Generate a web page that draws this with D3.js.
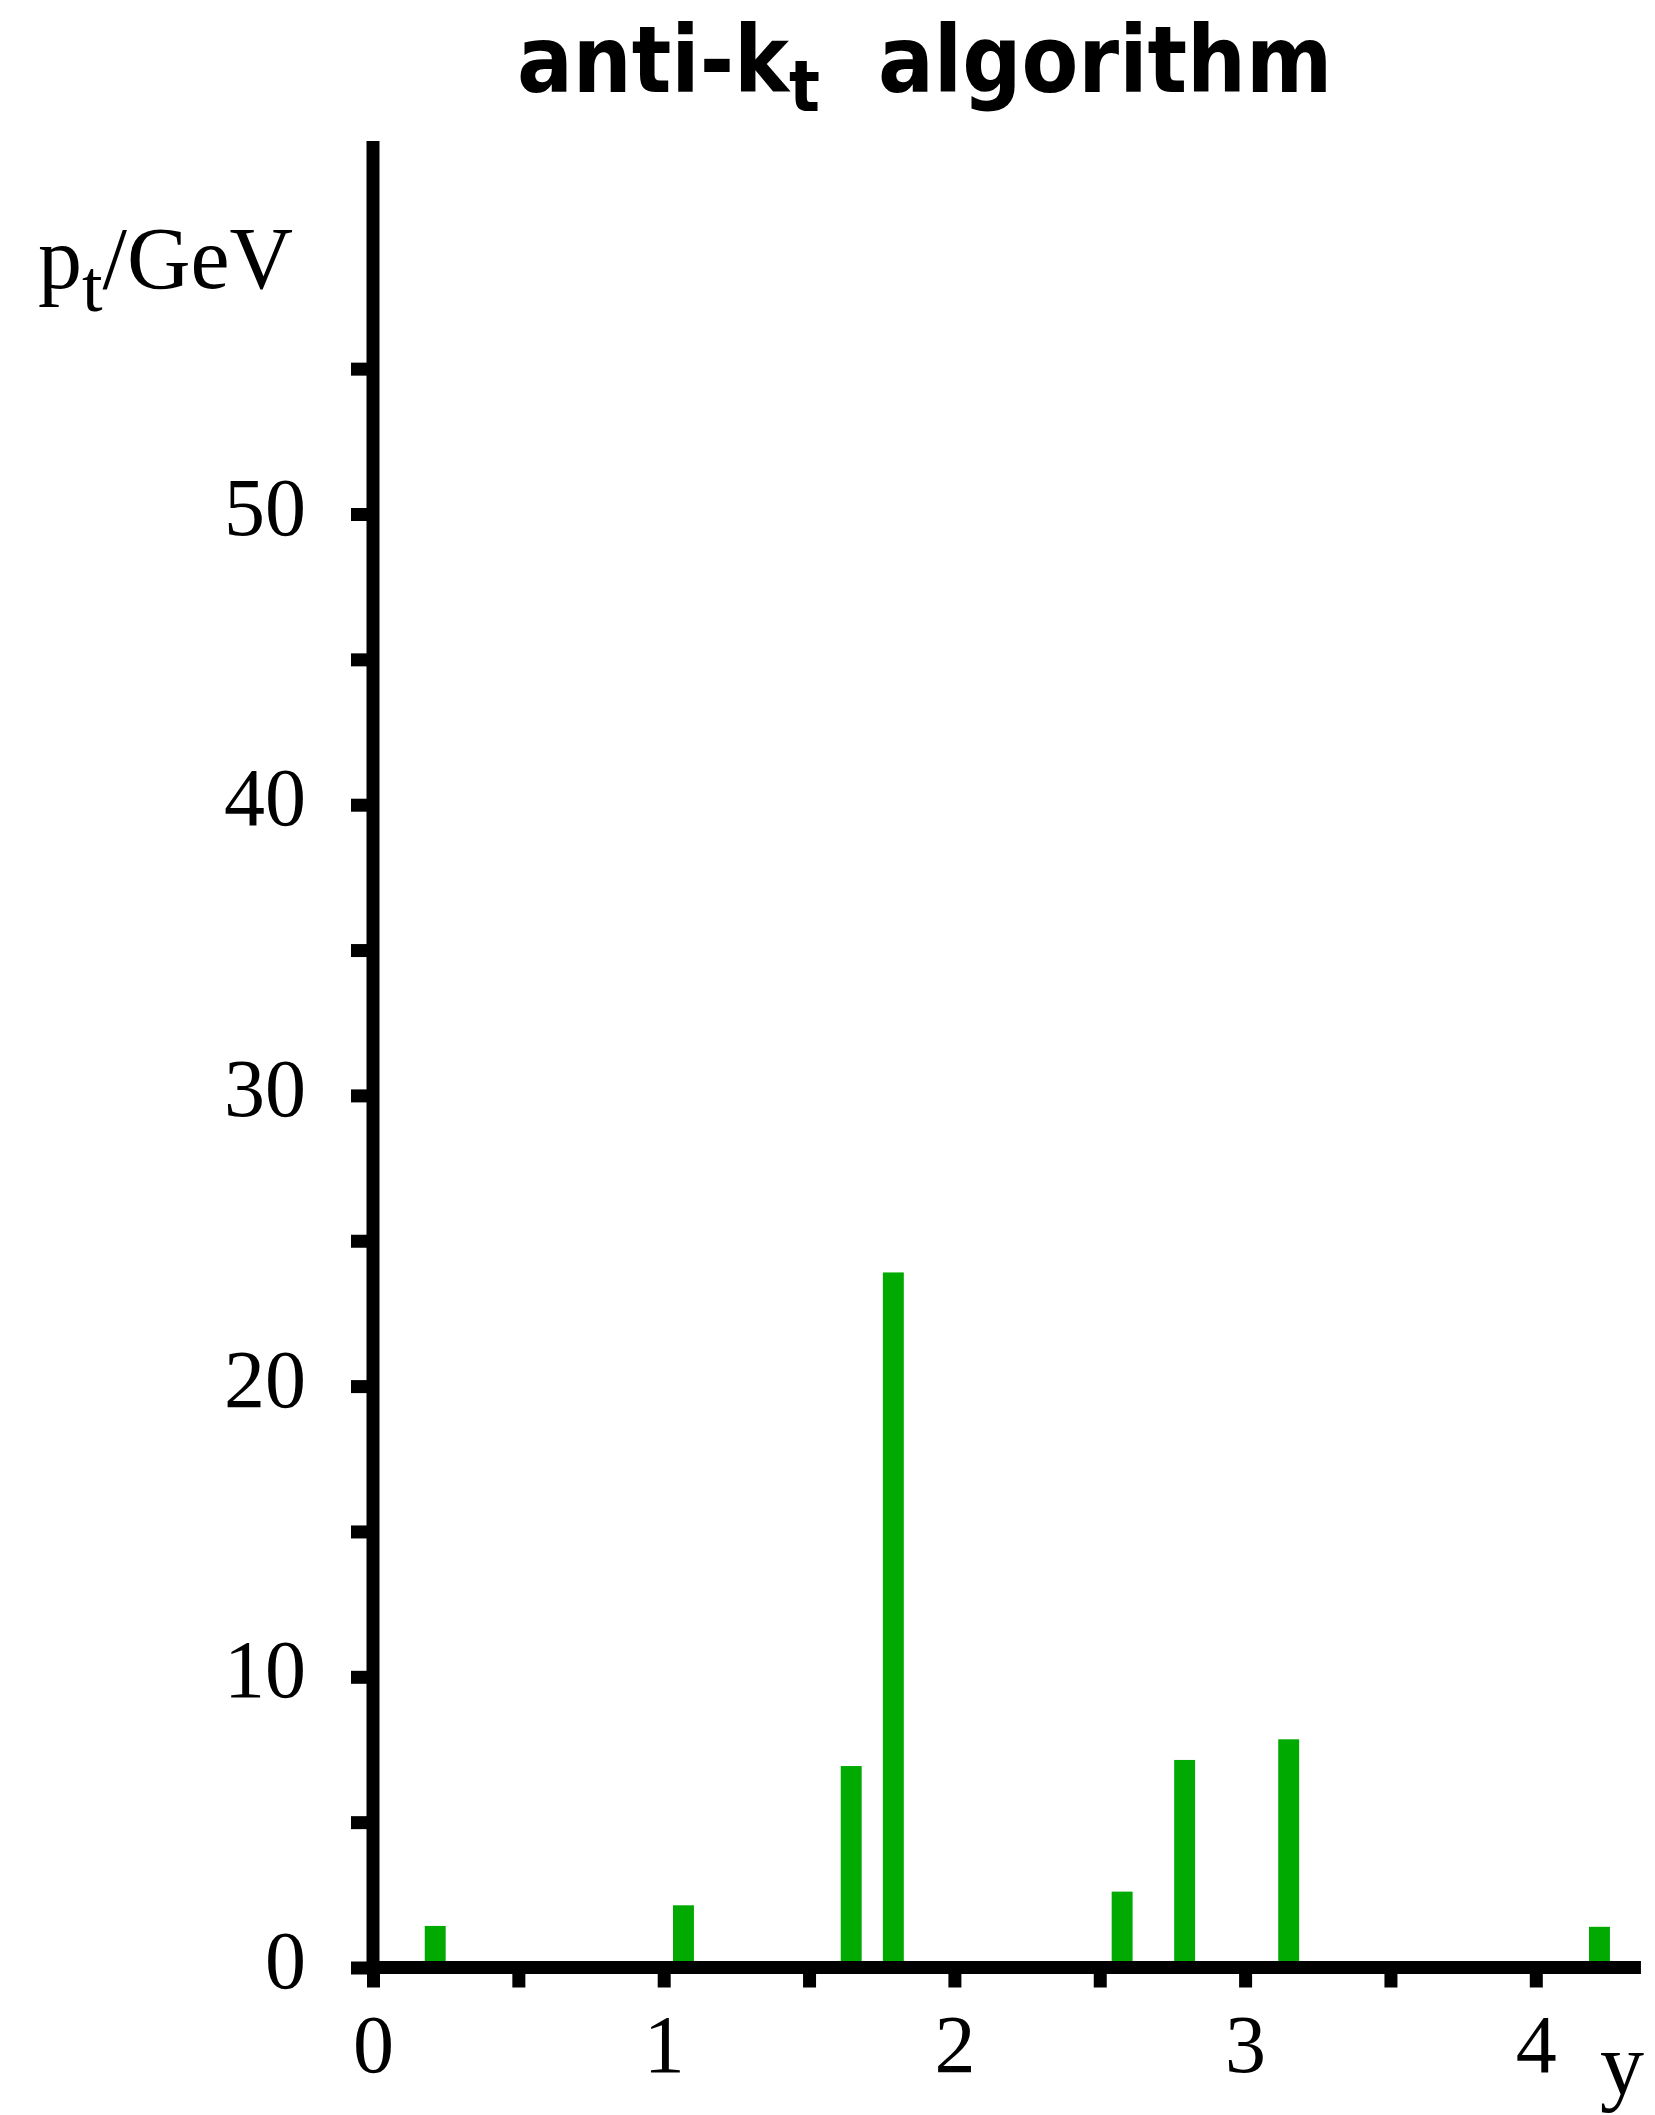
<!DOCTYPE html>
<html>
<head>
<meta charset="utf-8">
<script src="https://cdn.jsdelivr.net/npm/d3@7"></script>
<style>
  html, body { margin: 0; padding: 0; background: #fff; }
  svg { display: block; }
</style>
</head>
<body>
<script>
// Jet transverse momenta vs rapidity, anti-kt clustering
const rapidity = [0.214, 1.068, 1.645, 1.790, 2.577, 2.792, 3.150, 4.219];
const ptGeV    = [1.43, 2.14, 6.93, 23.91, 2.61, 7.14, 7.85, 1.40];
const yTicks = [0, 5, 10, 15, 20, 25, 30, 35, 40, 45, 50, 55];
const yTickLabels = ["0", "", "10", "", "20", "", "30", "", "40", "", "50", ""];
const xTicks = [0, 0.5, 1, 1.5, 2, 2.5, 3, 3.5, 4];
const xTickLabels = ["0", "", "1", "", "2", "", "3", "", "4"];

const W = 1655, H = 2115;
const x0 = 373, y0 = 1967.5;
const pxPerY = 290.7;      // pixels per unit of rapidity
const pxPerPt = 29.07;     // pixels per GeV
const xMax = 4.36, yMax = 62.85;
const barWidth = 0.072;    // in rapidity units
const axisStroke = 13;
const tickFont = 82;
const serif = "'Liberation Serif', 'Times New Roman', serif";

const svg = d3.select("body").append("svg")
  .attr("width", W).attr("height", H)
  .attr("viewBox", `0 0 ${W} ${H}`);

svg.append("rect").attr("width", W).attr("height", H).attr("fill", "#fff");

const x = d3.scaleLinear().domain([0, xMax]).range([x0, x0 + xMax * pxPerY]);
const y = d3.scaleLinear().domain([0, yMax]).range([y0, y0 - yMax * pxPerPt]);

// bars
const data = rapidity.map((r, i) => ({ r, pt: ptGeV[i] }));
svg.append("g").selectAll("rect").data(data).join("rect")
  .attr("x", d => x(d.r - barWidth / 2))
  .attr("width", d => x(d.r + barWidth / 2) - x(d.r - barWidth / 2))
  .attr("y", d => y(d.pt))
  .attr("height", d => y(0) - y(d.pt))
  .attr("fill", "#00aa00");

// y axis
const yAxis = d3.axisLeft(y)
  .tickValues(yTicks)
  .tickSize(21.5)
  .tickSizeOuter(0)
  .tickPadding(45)
  .tickFormat((d, i) => yTickLabels[i]);
const gy = svg.append("g").attr("transform", `translate(${x0 - 0.5},0)`).call(yAxis);
gy.select(".domain").attr("stroke-width", axisStroke);
gy.selectAll(".tick line").attr("stroke-width", axisStroke);
gy.selectAll(".tick text")
  .attr("font-family", serif).attr("font-size", tickFont)
  .attr("fill", "#000").attr("dy", "0.244em");

// x axis
const xAxis = d3.axisBottom(x)
  .tickValues(xTicks)
  .tickSize(20.5)
  .tickSizeOuter(0)
  .tickPadding(26)
  .tickFormat((d, i) => xTickLabels[i]);
const gx = svg.append("g").attr("transform", `translate(0,${y0 - 0.5})`).call(xAxis);
gx.select(".domain").attr("stroke-width", axisStroke);
gx.selectAll(".tick line").attr("stroke-width", axisStroke);
gx.selectAll(".tick text")
  .attr("font-family", serif).attr("font-size", tickFont)
  .attr("fill", "#000");
gy.attr("font-family", null); gx.attr("font-family", null);

// y axis title: p_t/GeV
const yl = svg.append("text")
  .attr("x", 38).attr("y", 288)
  .attr("font-family", serif).attr("font-size", 88).attr("fill", "#000");
yl.append("tspan").text("p");
yl.append("tspan").attr("font-size", 74).attr("dy", 23).text("t");
yl.append("tspan").attr("dy", -23).text("/GeV");

// x axis title
svg.append("text")
  .attr("x", 1600).attr("y", 2094)
  .attr("font-family", serif).attr("font-size", 88).attr("fill", "#000")
  .text("y");

// chart title: anti-k_t algorithm
const title = svg.append("text")
  .attr("x", 517).attr("y", 92)
  .attr("font-family", "'DejaVu Sans Condensed', 'DejaVu Sans', sans-serif")
  .attr("font-stretch", "condensed")
  .attr("font-weight", "bold").attr("font-size", 92).attr("fill", "#000");
title.append("tspan").text("anti-k");
title.append("tspan").attr("font-size", 72).attr("dy", 19).text("t");
title.append("tspan").attr("x", 878).attr("dy", -19).text("algorithm");
</script>
</body>
</html>
